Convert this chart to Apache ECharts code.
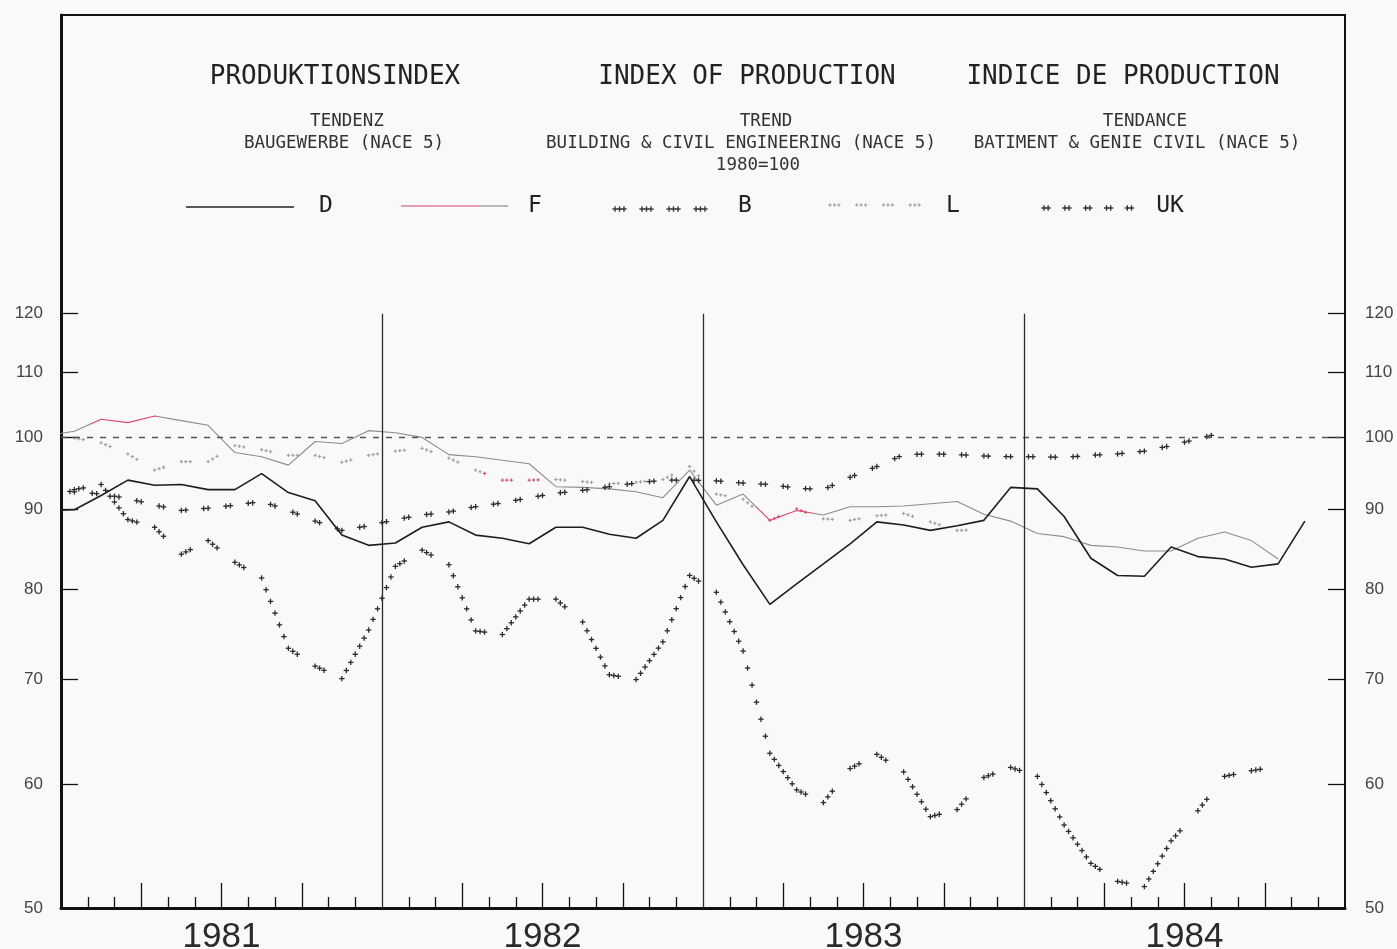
<!DOCTYPE html>
<html>
<head>
<meta charset="utf-8">
<script src="https://cdn.jsdelivr.net/npm/echarts@6/dist/echarts.min.js"></script>
<style>
  html, body { margin: 0; padding: 0; background: #f9f9f9; }
  #chart { width: 1397px; height: 949px; }
</style>
</head>
<body>
<div id="chart"></div>
<script>
// ---- data -------------------------------------------------------------
// Monthly index values (1980 = 100). First entry is Dec 1980, then Jan 1981 ... Dec 1984.
const years = ['1981', '1982', '1983', '1984'];
const yTickValues = [50, 60, 70, 80, 90, 100, 110, 120];
const seriesNames = ['D', 'F', 'B', 'L', 'UK'];

const valuesD = [89.8,
  89.9, 91.8, 93.9, 93.2, 93.3, 92.6, 92.6, 94.8, 92.2, 91.1, 86.6, 85.3,
  85.6, 87.6, 88.3, 86.6, 86.2, 85.5, 87.6, 87.6, 86.7, 86.2, 88.5, 94.4,
  88.3, 82.9, 78.2, 80.6, 83.0, 85.5, 88.3, 87.9, 87.2, 87.8, 88.5, 92.9,
  92.7, 89.0, 83.7, 81.6, 81.5, 85.1, 83.9, 83.6, 82.6, 83.0, 88.4, null];

const valuesF = [100.3,
  100.9, 102.7, 102.2, 103.2, 102.5, 101.8, 97.8, 97.2, 96.0, 99.4, 99.1, 101.0,
  100.7, 100.0, 97.5, 97.2, 96.7, 96.2, 93.0, 92.9, 92.7, 92.3, 91.5, 95.3,
  90.5, 92.0, 88.5, 89.8, 89.2, 90.3, 90.3, 90.4, 90.7, 91.0, 89.3, 88.4,
  86.8, 86.4, 85.3, 85.1, 84.6, 84.6, 86.2, 87.0, 85.9, 83.6, null, null];

const valuesB = [92.0,
  92.6, 93.3, 88.6, 87.6, 84.2, 85.9, 83.2, 81.3, 73.3, 71.4, 70.1, 75.3,
  82.7, 84.7, 82.9, 75.2, 74.8, 78.8, 78.8, 76.2, 70.5, 70.0, 74.0, 81.6,
  79.6, 73.0, 62.8, 59.5, 58.4, 61.4, 62.7, 61.1, 57.2, 57.8, 60.6, 61.5,
  60.7, 56.5, 53.4, 52.0, 51.6, 55.2, 57.7, 60.7, 61.2, 61.6, null, null];

const valuesL = [100.0,
  99.9, 99.2, 97.6, 95.3, 96.5, 96.5, 98.8, 98.2, 97.4, 97.4, 96.4, 97.4,
  98.0, 98.4, 97.0, 95.3, 93.9, 93.9, 94.0, 93.7, 93.4, 93.6, 94.0, 95.8,
  92.0, 91.3, 88.5, 90.0, 88.7, 88.5, 89.1, 89.4, 88.3, 87.2, 87.3, null,
  null, null, null, null, null, null, null, null, null, null, null, null];

const valuesUK = [92.6,
  92.3, 92.0, 91.4, 90.5, 89.8, 90.1, 90.5, 91.0, 89.8, 88.4, 87.2, 87.8,
  88.6, 89.2, 89.6, 90.3, 90.8, 91.5, 92.1, 92.5, 93.0, 93.5, 93.9, 93.9,
  93.8, 93.5, 93.3, 92.8, 92.6, 94.3, 95.8, 97.5, 97.6, 97.5, 97.3, 97.2,
  97.2, 97.1, 97.4, 97.6, 98.0, 98.8, 99.8, 100.8, null, null, null, null];

// Title block text
const titleMain = ['PRODUKTIONSINDEX', 'INDEX OF PRODUCTION', 'INDICE DE PRODUCTION'];
const titleSub = [
  ['TENDENZ', 'BAUGEWERBE (NACE 5)'],
  ['TREND', 'BUILDING & CIVIL ENGINEERING (NACE 5)', '1980=100'],
  ['TENDANCE', 'BATIMENT & GENIE CIVIL (NACE 5)']
];

// ---- layout -----------------------------------------------------------
const W = 1397, H = 949;
const GRID = { left: 61, right: 52, top: 15, bottom: 41 };
const X0 = GRID.left, X1 = W - GRID.right, Y0 = GRID.top, Y1 = H - GRID.bottom;
const Y_MAX = 186.3;          // top of the framed area on the log scale
const RED = '#d8466a';
const redSpansF = [[1.1, 3.6], [26.0, 28.1]];   // month positions where the F trace is printed red
const redSpansL = [[15.8, 18.5], [26.0, 28.1]];

// x position: month index with Jan 1981 centred at 0.5
function toPoints(vals) {
  const out = [];
  vals.forEach((v, i) => { if (v != null) out.push([i - 0.5, v]); });
  return out;
}

const monthTicks = [], quarterTicks = [];
for (let m = 1; m < 48; m++) {
  if (m % 12 === 0) continue;
  (m % 3 === 0 ? quarterTicks : monthTicks).push(m);
}
const yearCentres = years.map((_, i) => i * 12 + 6);
const yearBounds = [12, 24, 36];

// ---- plotter-style cross marks ----------------------------------------
const styleB = { step: 4.5, period: 6, count: 3, size: 2.7, width: 1.3, color: '#2b2b2b', steep: 1.3 };
const styleUK = { step: 4.2, period: 5, count: 2, size: 2.7, width: 1.3, color: '#2b2b2b', steep: 1.3 };
const styleL = { step: 4.5, period: 6, count: 3, size: 1.7, width: 1.0, color: '#9c9c9c', steep: 1.3 };

function cross(x, y, st, color) {
  const h = st.size;
  const ls = { stroke: color, lineWidth: st.width };
  return [
    { type: 'line', shape: { x1: x - h, y1: y, x2: x + h, y2: y }, style: ls, silent: true },
    { type: 'line', shape: { x1: x, y1: y - h, x2: x, y2: y + h }, style: ls, silent: true }
  ];
}

// pts: [px, py, dataX]; marks follow the x direction, with gaps only on shallow runs
function crossMarks(pts, st, redSpans) {
  let out = [];
  let k = 0;
  for (let i = 1; i < pts.length; i++) {
    const [x0, y0, d0] = pts[i - 1], [x1, y1, d1] = pts[i];
    const dx = x1 - x0, dy = y1 - y0;
    const n = Math.max(1, Math.round(Math.abs(dx) / st.step));
    const steep = Math.abs(dy / dx) > st.steep;
    for (let j = 0; j < n; j++) {
      const t = j / n;
      const x = x0 + t * dx, y = y0 + t * dy, d = d0 + t * (d1 - d0);
      const on = (k++ % st.period) < st.count;
      if (!on && !steep) continue;
      if (x < X0 + 3 || x > X1 - 3) continue;
      const red = redSpans && redSpans.some(([a, b]) => d >= a && d < b);
      out = out.concat(cross(x, y, st, red ? RED : st.color));
    }
  }
  return out;
}

function markSeries(name, values, st, redSpans) {
  const data = toPoints(values);
  return {
    name, type: 'custom', coordinateSystem: 'cartesian2d',
    xAxisIndex: 0, yAxisIndex: 0, data, z: 4, silent: true,
    encode: { x: 0, y: 1 },
    renderItem(params, api) {
      if (params.dataIndex !== 0) return null;
      const pts = data.map(d => { const p = api.coord(d); return [p[0], p[1], d[0]]; });
      return { type: 'group', children: crossMarks(pts, st, redSpans) };
    }
  };
}

// ---- graphic: frame top, titles, legend --------------------------------
const graphics = [];
graphics.push({ type: 'line', shape: { x1: X0 - 1, y1: Y0, x2: X1 + 1, y2: Y0 },
  style: { stroke: '#111', lineWidth: 2 }, silent: true });

const mainX = [335, 747, 1123];
titleMain.forEach((t, i) => graphics.push({
  type: 'text', x: mainX[i], y: 77, silent: true,
  style: { text: t, fontFamily: 'DejaVu Sans Mono', fontSize: 26, fill: '#222', align: 'center', verticalAlign: 'middle' }
}));
const subX = [[347, 344], [766, 741, 758], [1145, 1137]];
const subY = [121, 143, 165];
titleSub.forEach((lines, i) => lines.forEach((t, j) => graphics.push({
  type: 'text', x: subX[i][j], y: subY[j], silent: true,
  style: { text: t, fontFamily: 'DejaVu Sans Mono', fontSize: 17.5, fill: '#333', align: 'center', verticalAlign: 'middle' }
})));

// legend keys
const LEG_Y = 207;
const legendKeys = [
  { x0: 186, x1: 294, tx: 326 },
  { x0: 401, x1: 508, tx: 535 },
  { x0: 615, x1: 722, tx: 745 },
  { x0: 830, x1: 936, tx: 953 },
  { x0: 1044, x1: 1143, tx: 1170 }
];
graphics.push({ type: 'line', shape: { x1: legendKeys[0].x0, y1: LEG_Y, x2: legendKeys[0].x1, y2: LEG_Y },
  style: { stroke: '#222', lineWidth: 1.6 }, silent: true });
graphics.push({ type: 'line', shape: { x1: legendKeys[1].x0, y1: LEG_Y - 1, x2: 480, y2: LEG_Y - 1 },
  style: { stroke: RED, lineWidth: 1.2 }, silent: true });
graphics.push({ type: 'line', shape: { x1: 480, y1: LEG_Y - 1, x2: legendKeys[1].x1, y2: LEG_Y - 1 },
  style: { stroke: '#8c8c8c', lineWidth: 1.2 }, silent: true });
[[2, styleB, 2], [3, styleL, -2], [4, styleUK, 1]].forEach(([i, st, dy]) => {
  const k = legendKeys[i];
  crossMarks([[k.x0, LEG_Y + dy, 0], [k.x1 + 1, LEG_Y + dy, 0]], st, null).forEach(el => graphics.push(el));
});
seriesNames.forEach((n, i) => graphics.push({
  type: 'text', x: legendKeys[i].tx, y: LEG_Y - 1, silent: true,
  style: { text: n, fontFamily: 'DejaVu Sans Mono', fontSize: 23, fill: '#222', align: 'center', verticalAlign: 'middle' }
}));

// ---- chart ---------------------------------------------------------------
const chart = echarts.init(document.getElementById('chart'));

const yAxisCommon = {
  type: 'log', min: 50, max: Y_MAX,
  axisTick: { show: true, inside: true, length: 17, customValues: yTickValues.slice(1),
    lineStyle: { color: '#111', width: 1.3 } },
  axisLabel: { show: true, customValues: yTickValues, formatter: v => String(Math.round(v)),
    fontFamily: 'Liberation Sans', fontSize: 17, color: '#444' },
  splitLine: { show: false }, minorTick: { show: false }, minorSplitLine: { show: false }
};

const option = {
  backgroundColor: '#f9f9f9',
  animation: false,
  grid: { left: GRID.left, right: GRID.right, top: GRID.top, bottom: GRID.bottom,
    containLabel: false, outerBoundsMode: 'none' },
  xAxis: [
    {
      type: 'value', min: 0, max: 48, position: 'bottom',
      axisLine: { show: true, onZero: false, lineStyle: { color: '#111', width: 3 } },
      axisTick: { show: true, inside: true, length: 11, customValues: monthTicks,
        lineStyle: { color: '#111', width: 1.3 } },
      axisLabel: { show: true, customValues: yearCentres,
        formatter: v => years[Math.round((v - 6) / 12)],
        fontFamily: 'Liberation Sans', fontSize: 35, color: '#2a2a2a', margin: 12 },
      splitLine: { show: false }
    },
    {
      type: 'value', min: 0, max: 48, position: 'bottom', offset: 0,
      axisLine: { show: false },
      axisTick: { show: true, inside: true, length: 25, customValues: quarterTicks,
        lineStyle: { color: '#111', width: 1.3 } },
      axisLabel: { show: false }, splitLine: { show: false }
    }
  ],
  yAxis: [
    Object.assign({}, yAxisCommon, {
      position: 'left',
      axisLine: { show: true, onZero: false, lineStyle: { color: '#111', width: 3 } },
      axisLabel: Object.assign({}, yAxisCommon.axisLabel, { margin: 18 })
    }),
    Object.assign({}, yAxisCommon, {
      position: 'right',
      axisLine: { show: true, onZero: false, lineStyle: { color: '#111', width: 2 } },
      axisLabel: Object.assign({}, yAxisCommon.axisLabel, { margin: 20 })
    })
  ],
  visualMap: [{
    type: 'piecewise', show: false, dimension: 0, seriesIndex: 1,
    pieces: redSpansF.map(([a, b]) => ({ gte: a, lt: b, color: RED })),
    outOfRange: { color: '#8c8c8c' }
  }],
  series: [
    {
      name: 'D', type: 'line', data: toPoints(valuesD), symbol: 'none', z: 5,
      lineStyle: { color: '#1e1e1e', width: 1.6 }, itemStyle: { color: '#1e1e1e' },
      markLine: {
        silent: true, symbol: 'none', label: { show: false },
        data: [
          { yAxis: 100, lineStyle: { color: '#555', width: 1.3, type: [6, 7] } },
          ...yearBounds.map(m => [
            { coord: [m, 50], lineStyle: { color: '#2a2a2a', width: 1.3, type: 'solid' } },
            { coord: [m, 120] }
          ])
        ]
      }
    },
    {
      name: 'F', type: 'line', data: toPoints(valuesF), symbol: 'none', z: 3,
      lineStyle: { width: 1.1 }
    },
    markSeries('B', valuesB, styleB, null),
    markSeries('L', valuesL, styleL, redSpansL),
    markSeries('UK', valuesUK, styleUK, null)
  ],
  graphic: graphics
};

chart.setOption(option);
</script>
</body>
</html>
